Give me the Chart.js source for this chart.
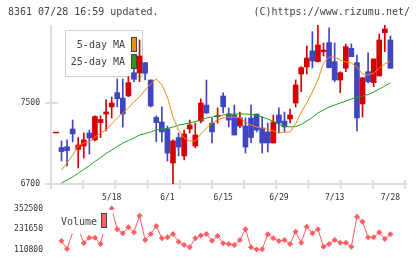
<!DOCTYPE html>
<html>
<head>
<meta charset="utf-8">
<script src="https://cdn.jsdelivr.net/npm/chart.js@4.4.1/dist/chart.umd.min.js"></script>
<style>
  html, body { margin: 0; padding: 0; background: #fff; }
  #wrap { position: relative; width: 420px; height: 259px; }
  #wrap canvas { position: absolute; left: 0; top: 0; }
</style>
</head>
<body>
<div id="wrap">
  <canvas id="priceChart" width="420" height="259"></canvas>
  <canvas id="volumeChart" width="420" height="259"></canvas>
</div>
<script>
// trading days shown on the chart
const dates = ['4/30','5/1','5/7','5/8','5/11','5/12','5/13','5/14','5/15','5/18',
  '5/19','5/20','5/21','5/22','5/25','5/26','5/27','5/28','5/29','6/1',
  '6/2','6/3','6/4','6/5','6/8','6/9','6/10','6/11','6/12','6/15',
  '6/16','6/17','6/18','6/19','6/22','6/23','6/24','6/25','6/26','6/29',
  '6/30','7/1','7/2','7/3','7/6','7/7','7/8','7/9','7/10','7/13',
  '7/14','7/15','7/16','7/17','7/21','7/22','7/23','7/24','7/27','7/28'];
const dateTicks = ['5/18', '6/1', '6/15', '6/29', '7/13', '7/28'];

// OHLC
const opens = [7060,7068,7243,7041,7075,7204,7135,7307,7391,7461,
  7602,7549,7569,7799,7796,7898,7727,7357,7312,7243,
  6907,7159,6977,7243,7075,7322,7480,7302,7367,7569,
  7391,7382,7273,7273,7352,7391,7253,7214,7105,7382,
  7322,7342,7500,7786,7856,8014,7908,8007,8096,7908,
  7727,7843,8040,7898,7490,7809,7701,7767,8194,8122];
const highs = [7125,7135,7332,7159,7204,7233,7372,7372,7530,7559,
  7737,7737,7760,7846,8122,7898,7727,7372,7461,7273,
  7135,7204,7233,7332,7302,7540,7727,7352,7451,7599,
  7451,7480,7411,7352,7480,7391,7362,7302,7381,7451,
  7411,7441,7727,7859,8063,8204,8270,8093,8241,8093,
  7809,8083,8083,7974,7750,7994,7935,8182,8270,8162];
const lows = [6927,6878,7115,6858,6957,6996,7125,7159,7223,7352,
  7461,7263,7564,7710,7710,7727,7461,7118,7115,6927,
  6700,6977,6937,7204,7056,7302,7396,7105,7302,7401,
  7263,7184,7253,7006,7105,7214,7006,7016,7105,7204,
  7214,7302,7461,7612,7786,7846,7905,7964,7846,7710,
  7602,7809,7957,7223,7362,7698,7661,7767,8007,7843];
const closes = [7020,7029,7194,7085,7135,7154,7367,7337,7411,7500,
  7542,7391,7701,7734,7964,7793,7470,7307,7214,7006,
  7125,7065,7194,7283,7184,7500,7401,7214,7377,7461,
  7332,7184,7352,7065,7159,7233,7105,7105,7312,7302,
  7263,7382,7678,7849,7944,7915,8073,8023,7849,7727,
  7799,8056,7957,7352,7750,7710,7935,8122,8231,7843];

// moving averages
const ma5 = [6838,6907,6986,7075,7105,7115,7164,7204,7233,7292,
  7352,7401,7450,7510,7559,7628,7687,7737,7678,7559,
  7361,7233,7154,7124,7124,7194,7253,7302,7332,7352,
  7361,7361,7352,7312,7282,7263,7253,7243,7223,7204,
  7213,7213,7292,7411,7500,7608,7727,7895,7954,7954,
  7924,7905,7895,7855,7786,7776,7796,7845,7885,7914];
const ma25 = [6710,6739,6769,6808,6843,6882,6922,6961,7001,7035,
  7070,7105,7129,7154,7184,7198,7213,7233,7243,7248,
  7263,7282,7292,7302,7317,7332,7352,7361,7371,7381,
  7391,7391,7391,7391,7386,7381,7361,7342,7317,7287,
  7273,7263,7268,7287,7322,7357,7401,7431,7460,7480,
  7500,7519,7539,7559,7569,7584,7608,7638,7668,7697];

const volumes = [160900,113800,214000,237600,149100,180400,180400,143200,280000,352500,
  229900,206300,241700,212200,310100,166800,202200,249300,176800,182700,
  202200,156800,137300,123800,176800,193300,202200,162700,190400,147400,
  143200,137300,166800,229900,123800,110800,112000,200400,176800,160900,
  166800,143200,215700,150900,245200,206300,229900,127300,143200,166800,
  150900,150900,127300,304200,274700,182700,182700,212200,172700,200400];

const priceTicks = [6700, 7500];
const volumeTicks = [110800, 231650, 352500];
const markerPrice = 7214;

const RED = '#d60000';
const BLUE = '#4046c0';
const ORANGE = '#f08a10';
const GREEN = '#1ea01e';
const VOL = '#ff5e62';
const GRAY = '#dcdcdc';
const FONT = 'DejaVu Sans Mono';

const idx = dates.map((_, i) => i + 1);
const candleColors = idx.map((_, i) => closes[i] >= opens[i] ? RED : BLUE);
const xMin = -0.883, xMax = 62.62;

// axis lines, tick marks and the small price marker
const frame = {
  id: 'frame',
  beforeDatasetsDraw(chart) {
    const { ctx, chartArea: a, scales: { y } } = chart;
    ctx.save();
    ctx.strokeStyle = GRAY;
    ctx.lineWidth = 2;
    ctx.beginPath();
    ctx.moveTo(a.left, a.top);
    ctx.lineTo(a.left, a.bottom + 5);
    ctx.moveTo(a.left - 6, a.bottom);
    ctx.lineTo(a.right + 2, a.bottom);
    priceTicks.forEach(v => {
      const py = y.getPixelForValue(v);
      ctx.moveTo(a.left - 6, py);
      ctx.lineTo(a.left + 7, py);
    });
    for (let i = 0; i <= 11; i++) {
      const px = a.left + (a.right - a.left) * i / 11;
      ctx.moveTo(px, a.bottom - 4);
      ctx.lineTo(px, a.bottom + 5);
    }
    ctx.stroke();

    const my = Math.round(y.getPixelForValue(markerPrice)) + 0.5;
    ctx.strokeStyle = RED;
    ctx.lineWidth = 1.5;
    ctx.beginPath();
    ctx.moveTo(a.left + 2, my);
    ctx.lineTo(a.left + 8, my);
    ctx.stroke();

    // MA legend box (candles are drawn over it)
    ctx.fillStyle = '#fff';
    ctx.strokeStyle = '#d0d0d0';
    ctx.lineWidth = 1;
    ctx.fillRect(65, 30, 78, 47);
    ctx.strokeRect(65.5, 30.5, 77, 46);
    ctx.font = '10px "' + FONT + '"';
    ctx.fillStyle = '#444';
    ctx.textAlign = 'right';
    ctx.textBaseline = 'middle';
    ctx.fillText('5-day MA', 125, 45);
    ctx.fillText('25-day MA', 125, 62);
    ctx.strokeStyle = '#444';
    ctx.fillStyle = ORANGE;
    ctx.fillRect(131.5, 37.5, 5, 14);
    ctx.strokeRect(131.5, 37.5, 5, 14);
    ctx.fillStyle = GREEN;
    ctx.fillRect(131.5, 54.5, 5, 14);
    ctx.strokeRect(131.5, 54.5, 5, 14);
    ctx.restore();
  },
  afterDraw(chart) {
    const { ctx } = chart;
    ctx.save();
    ctx.font = '10px "' + FONT + '"';
    ctx.fillStyle = '#444';
    ctx.textBaseline = 'middle';
    ctx.textAlign = 'left';
    ctx.fillText('8361 07/28 16:59 updated.', 8, 12);
    ctx.textAlign = 'right';
    ctx.fillText('(C)https://www.rizumu.net/', 410, 12);
    ctx.restore();
  }
};

new Chart(document.getElementById('priceChart'), {
  type: 'bar',
  data: {
    datasets: [
      { type: 'line', label: '5-day MA', data: idx.map((x, i) => ({ x, y: ma5[i] })),
        borderColor: ORANGE, borderWidth: 1, pointRadius: 0, tension: 0, order: 0 },
      { type: 'line', label: '25-day MA', data: idx.map((x, i) => ({ x, y: ma25[i] })),
        borderColor: GREEN, borderWidth: 1, pointRadius: 0, tension: 0, order: 0 },
      { label: 'body', data: idx.map((x, i) => ({ x, y: [opens[i], closes[i]] })),
        backgroundColor: candleColors, barThickness: 5, grouped: false, order: 1 },
      { label: 'wick', data: idx.map((x, i) => ({ x, y: [lows[i], highs[i]] })),
        backgroundColor: candleColors, barThickness: 1, grouped: false, order: 2 }
    ]
  },
  options: {
    responsive: false,
    animation: false,
    events: [],
    layout: { padding: { left: 6, right: 15, top: 25, bottom: 55 } },
    plugins: { legend: { display: false }, tooltip: { enabled: false } },
    scales: {
      x: {
        type: 'linear', min: xMin, max: xMax, offset: false,
        grid: { display: false }, border: { display: false },
        afterFit: s => { s.height = 20; },
        afterBuildTicks: s => { s.ticks = dateTicks.map(d => ({ value: dates.indexOf(d) + 1 })); },
        ticks: { callback: v => dates[v - 1], autoSkip: false, maxRotation: 0,
          padding: 1, color: '#333', font: { family: FONT, size: 8 } }
      },
      y: {
        min: 6700, max: 8270,
        grid: { display: false }, border: { display: false },
        afterFit: s => { s.width = 45; },
        afterBuildTicks: s => { s.ticks = priceTicks.map(v => ({ value: v })); },
        ticks: { callback: v => String(v), padding: 3, color: '#333', font: { family: FONT, size: 8 } }
      }
    }
  },
  plugins: [frame]
});

const volumeLegend = {
  id: 'volumeLegend',
  afterDatasetsDraw(chart) {
    const { ctx } = chart;
    ctx.save();
    ctx.fillStyle = '#fff';
    ctx.fillRect(56, 210, 57, 24);
    ctx.font = '10px "' + FONT + '"';
    ctx.fillStyle = '#444';
    ctx.textAlign = 'right';
    ctx.textBaseline = 'middle';
    ctx.fillText('Volume', 97, 222);
    ctx.fillStyle = VOL;
    ctx.strokeStyle = '#444';
    ctx.lineWidth = 1;
    ctx.fillRect(101.5, 213.5, 5, 14);
    ctx.strokeRect(101.5, 213.5, 5, 14);
    ctx.restore();
  }
};

new Chart(document.getElementById('volumeChart'), {
  type: 'line',
  data: {
    datasets: [{
      label: 'Volume',
      data: idx.map((x, i) => ({ x, y: volumes[i] })),
      borderColor: VOL, backgroundColor: VOL, borderWidth: 1,
      pointStyle: 'rectRot', pointRadius: 3, pointBorderWidth: 0,
      tension: 0, clip: false
    }]
  },
  options: {
    responsive: false,
    animation: false,
    events: [],
    layout: { padding: { left: 6, right: 15, top: 208.5, bottom: 9.5 } },
    plugins: { legend: { display: false }, tooltip: { enabled: false } },
    scales: {
      x: { type: 'linear', min: xMin, max: xMax, display: false },
      y: {
        min: 110800, max: 352500,
        grid: { display: false }, border: { display: false },
        afterFit: s => { s.width = 45; },
        afterBuildTicks: s => { s.ticks = volumeTicks.map(v => ({ value: v })); },
        ticks: { callback: v => String(v), padding: 0, color: '#333', font: { family: FONT, size: 8 } }
      }
    }
  },
  plugins: [volumeLegend]
});
</script>
</body>
</html>
